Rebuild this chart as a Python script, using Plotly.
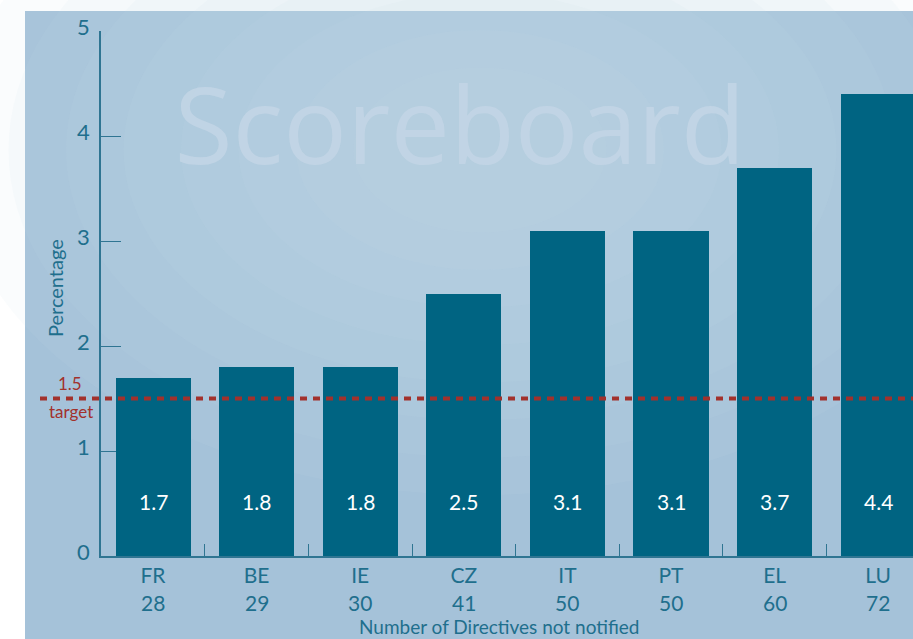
import plotly.graph_objects as go

# Data
countries = ["FR", "BE", "IE", "CZ", "IT", "PT", "EL", "LU"]
not_notified = [28, 29, 30, 41, 50, 50, 60, 72]
percentage = [1.7, 1.8, 1.8, 2.5, 3.1, 3.1, 3.7, 4.4]
target = 1.5
y_ticks = [0, 1, 2, 3, 4, 5]

W, H = 913, 639
ML, MR, MT, MB = 101, 0, 31, 83
PW, PH = W - ML - MR, H - MT - MB

def px_x(p):
    return (p - ML) / PW

def px_y(p):
    return (H - MB - p) / PH

TEAL = "#006482"
TXT = "#1f6f8d"
AX = "#2f7592"
RED = "#a2312c"
FONT = "Lato"

x_idx = list(range(len(countries)))

fig = go.Figure()
fig.add_trace(go.Bar(
    x=x_idx, y=percentage, width=0.724,
    marker=dict(color=TEAL, line=dict(width=0)),
    hoverinfo="skip", showlegend=False,
))

shapes = []
# panel background
shapes.append(dict(type="rect", xref="paper", yref="paper",
                   x0=px_x(25), x1=px_x(W + 5), y0=px_y(H + 5), y1=px_y(11),
                   fillcolor="#a5c2d9", line=dict(width=0), layer="below"))
# soft light glow toward the upper centre
for r in [460, 410, 360, 310, 260, 210, 160, 110]:
    cx, cy = 480, 150
    shapes.append(dict(type="circle", xref="paper", yref="paper",
                       x0=px_x(cx - r * 1.15), x1=px_x(cx + r * 1.15),
                       y0=px_y(cy + r * 0.75), y1=px_y(cy - r * 0.75),
                       fillcolor="rgba(205,222,237,0.09)", line=dict(width=0),
                       layer="below"))
# watermark title, kept under the bars
shapes.append(dict(type="rect", xref="paper", yref="paper",
                   x0=px_x(170), x1=px_x(750), y0=px_y(190), y1=px_y(70),
                   fillcolor="rgba(0,0,0,0)", line=dict(width=0), layer="below",
                   label=dict(text="Scoreboard", textposition="middle center",
                              font=dict(family="Open Sans", size=106,
                                        color="rgba(196,214,230,0.8)"))))
# target line
shapes.append(dict(type="line", xref="paper", yref="y",
                   x0=px_x(40), x1=1.0, y0=target, y1=target,
                   line=dict(color=RED, width=4, dash="7px,6px")))

annotations = []
# y tick labels, sitting slightly above their ticks
for v in y_ticks:
    annotations.append(dict(x=0, xref="paper", y=v, yref="y", text=str(v),
                            xanchor="right", yanchor="middle", xshift=-9, yshift=5,
                            showarrow=False, font=dict(family=FONT, size=22, color=TXT)))
# number of directives under each country code
for i, n in enumerate(not_notified):
    annotations.append(dict(x=i, xref="x", y=px_y(602), yref="paper", text=str(n),
                            xanchor="center", yanchor="middle", showarrow=False,
                            borderpad=0,
                            font=dict(family=FONT, size=21, color=TXT)))
# value labels inside the bars
for i, v in enumerate(percentage):
    annotations.append(dict(x=i, y=0.52, xref="x", yref="y", text=f"{v:.1f}",
                            xanchor="center", yanchor="middle",
                            showarrow=False, font=dict(family=FONT, size=21, color="white")))
# target label
annotations.append(dict(x=px_x(70), y=target, xref="paper", yref="y", text="1.5",
                        xanchor="center", yanchor="bottom", yshift=3, showarrow=False,
                        font=dict(family=FONT, size=17, color=RED)))
annotations.append(dict(x=px_x(71), y=target, xref="paper", yref="y", text="target",
                        xanchor="center", yanchor="top", yshift=0, showarrow=False,
                        font=dict(family=FONT, size=17, color=RED)))
# axis titles
annotations.append(dict(x=px_x(55), y=px_y(288), xref="paper", yref="paper",
                        text="Percentage", textangle=-90, showarrow=False,
                        xanchor="center", yanchor="middle",
                        font=dict(family=FONT, size=20, color=TXT)))
annotations.append(dict(x=px_x(499), y=px_y(626), xref="paper", yref="paper",
                        text="Number of Directives not notified", showarrow=False,
                        xanchor="center", yanchor="middle", borderpad=0,
                        font=dict(family=FONT, size=19, color=TXT)))

fig.update_layout(
    width=W, height=H,
    margin=dict(l=ML, r=MR, t=MT, b=MB, pad=0),
    paper_bgcolor="white", plot_bgcolor="rgba(0,0,0,0)",
    shapes=shapes, annotations=annotations,
    showlegend=False, bargap=0,
    xaxis=dict(
        range=[-0.502, 7.336], tickmode="array", tickvals=x_idx,
        ticktext=countries,
        ticks="", showgrid=False, zeroline=False,
        showline=True, linecolor=AX, linewidth=1.5,
        tickfont=dict(family=FONT, size=21, color=TXT),
        minor=dict(tickmode="array", tickvals=[i + 0.5 for i in x_idx[:-1]],
                   ticks="inside", ticklen=12, tickcolor=AX, tickwidth=1.2),
        fixedrange=True,
    ),
    yaxis=dict(
        range=[0, 5], tickvals=y_ticks, showticklabels=False,
        ticks="inside", ticklen=20, tickcolor=AX, tickwidth=1.2,
        showgrid=False, zeroline=False, showline=True, linecolor=AX, linewidth=1.5,
        layer="below traces", fixedrange=True,
    ),
)

fig.write_html("out.html")
